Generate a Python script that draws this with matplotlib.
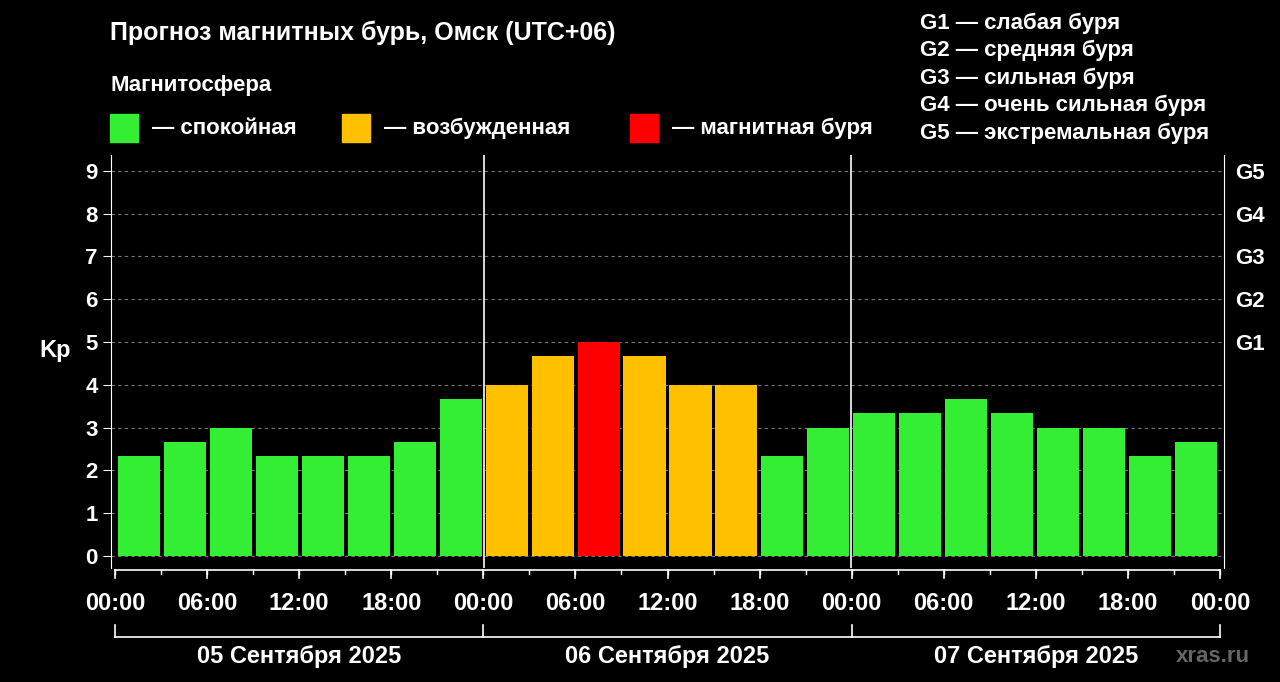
import matplotlib
matplotlib.use("Agg")
import matplotlib.pyplot as plt
from matplotlib.patches import Rectangle
from matplotlib.lines import Line2D

plt.rcParams["font.family"] = "Liberation Sans"
plt.rcParams["font.weight"] = "bold"

kp = [2.33, 2.67, 3.0, 2.33, 2.33, 2.33, 2.67, 3.67,
      4.0, 4.67, 5.0, 4.67, 4.0, 4.0, 2.33, 3.0,
      3.33, 3.33, 3.67, 3.33, 3.0, 3.0, 2.33, 2.67]
days = ["05 Сентября 2025", "06 Сентября 2025", "07 Сентября 2025"]
time_labels = ["00:00", "06:00", "12:00", "18:00"] * 3 + ["00:00"]
g_labels = ["G1", "G2", "G3", "G4", "G5"]
storm_legend = ["G1 — слабая буря", "G2 — средняя буря", "G3 — сильная буря",
                "G4 — очень сильная буря", "G5 — экстремальная буря"]
legend_items = [("— спокойная", "#33ee33"), ("— возбужденная", "#ffc000"), ("— магнитная буря", "#ff0000")]

def color(v):
    if v >= 5: return "#ff0000"
    if v >= 4: return "#ffc000"
    return "#33ee33"

W, H = 1280, 682
fig = plt.figure(figsize=(12.8, 6.82), dpi=100, facecolor="black")
def fx(p): return p / W
def fy(p): return 1 - p / H

ax = fig.add_axes([fx(111), fy(568), fx(1224) - fx(111), fy(155) - fy(568)], facecolor="black")
x0, x1 = -0.35, 72.35
ax.set_xlim(x0, x1)
ax.set_ylim(-0.28, 9.37)
for i, v in enumerate(kp):
    ax.bar(i * 3 + 1.5, v, width=2.75, color=color(v), zorder=3)
for y in range(10):
    ax.axhline(y, color="#777777", lw=0.8, ls=(0, (3, 3)), zorder=1)
for d in (24, 48):
    ax.axvline(d, color="white", lw=1.2, zorder=4)
for s in ax.spines.values():
    s.set_color("white")
ax.spines["top"].set_visible(False)
ax.spines["bottom"].set_visible(False)
ax.set_xticks([])
ax.set_yticks(range(10))
ax.set_yticklabels([str(i) for i in range(10)], color="white", fontsize=16, fontweight="bold")
ax.tick_params(axis="y", colors="white", direction="out", length=6, right=True)
ax2 = ax.twinx()
ax2.set_ylim(ax.get_ylim())
ax2.set_yticks([5, 6, 7, 8, 9])
ax2.set_yticklabels(g_labels, color="white", fontsize=16, fontweight="bold")
ax2.tick_params(axis="y", colors="white", length=0, pad=8)
for s in ax2.spines.values():
    s.set_visible(False)
ax.set_ylabel("Kp", color="white", fontsize=17, fontweight="bold", rotation=0, labelpad=22)

# x axis (time) below
def hx(h):
    return 115 + h / 72 * (1220 - 115)
fig.add_artist(Line2D([fx(hx(0)), fx(hx(72))], [fy(570), fy(570)], color="white", lw=1.2))
for k in range(13):
    h = k * 6
    fig.add_artist(Line2D([fx(hx(h))] * 2, [fy(570), fy(578)], color="white", lw=1.2))
    fig.text(fx(hx(h)), fy(603), time_labels[k], color="white", fontsize=17, ha="center", va="center")
for h in range(0, 73, 3):
    fig.add_artist(Line2D([fx(hx(h))] * 2, [fy(570), fy(574)], color="white", lw=1))
# day brackets
fig.add_artist(Line2D([fx(hx(0)), fx(hx(72))], [fy(637), fy(637)], color="white", lw=1.2))
for d in range(4):
    fig.add_artist(Line2D([fx(hx(d * 24))] * 2, [fy(625), fy(637)], color="white", lw=1.2))
for d in range(3):
    fig.text(fx(hx(d * 24 + 12)), fy(657), days[d], color="white", fontsize=17, ha="center", va="center")
fig.text(fx(1250), fy(656), "xras.ru", color="#666666", fontsize=16, ha="right", va="center")

fig.text(fx(110), fy(33), "Прогноз магнитных бурь, Омск (UTC+06)", color="white", fontsize=18, va="center")
fig.text(fx(110), fy(86), "Магнитосфера", color="white", fontsize=16, va="center")
xs = [110, 342, 630]
for (lab, c), x in zip(legend_items, xs):
    fig.add_artist(Rectangle((fx(x), fy(142)), fx(28), fy(114) - fy(142), color=c, transform=fig.transFigure))
    fig.text(fx(x + 42), fy(128), lab, color="white", fontsize=16, va="center")
for i, t in enumerate(storm_legend):
    fig.text(fx(920), fy(23 + i * 27.5), t, color="white", fontsize=16, va="center")

fig.savefig("out.png", dpi=100, facecolor="black")
